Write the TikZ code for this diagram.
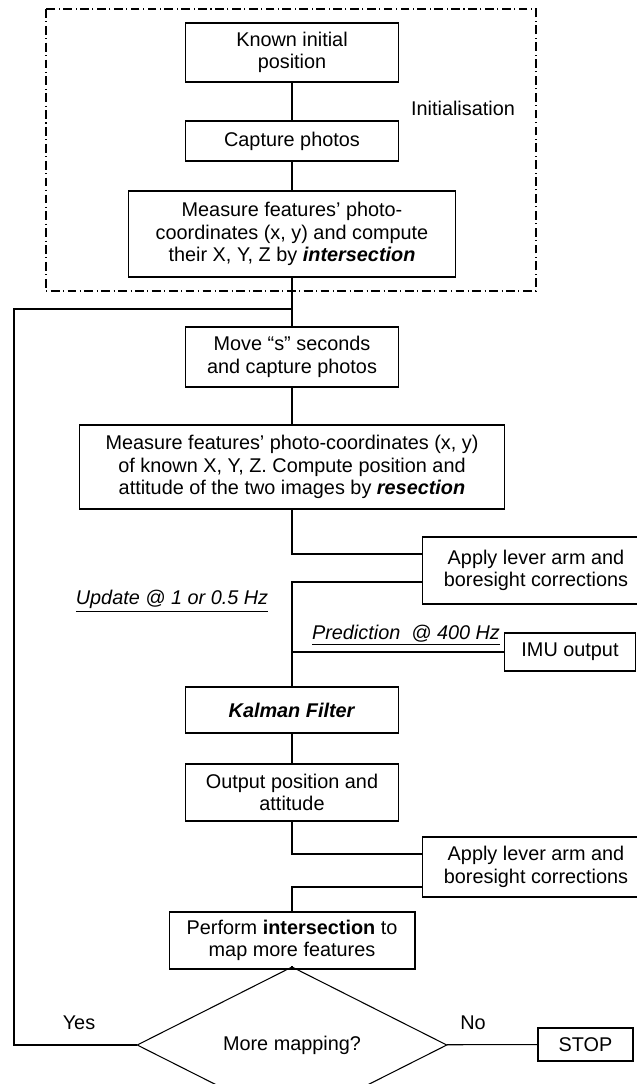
\documentclass[tikz,border=0pt]{standalone}
\usepackage{fontspec}
\setmainfont{Liberation Sans}
\usetikzlibrary{shapes.geometric}
\begin{document}
\begin{tikzpicture}[x = 0.02cm, y = -0.02cm,
		box/.style = {draw, line width = 0.6pt, inner sep = 0pt, align = center, font = \fontsize{11.3}{12.7}\selectfont},
		decision/.style = {draw, diamond, line width = 0.6pt, inner sep = 0pt, minimum width = 6.2cm, minimum height = 1.6cm, font = \fontsize{11.3}{12.7}\selectfont},
		link/.style = {draw, line width = 0.6pt},
		note/.style = {inner sep = 0pt, font = \fontsize{11.3}{12.7}\selectfont}]
				\useasboundingbox (0,0) rectangle (636,1084);
				% initialisation block
				\draw[line width = 0.6pt, dash pattern = on 5pt off 2pt on 0.6pt off 2pt] (46,9) rectangle (536,291);
				\node[note] (initlbl) at (463,108) {Initialisation};
				\node[box, minimum width = 4.26cm, minimum height = 1.18cm] (known) at (292,52.5) {Known initial\\position};
				\node[box, minimum width = 4.26cm, minimum height = 0.8cm] (capture) at (292,141) {Capture photos};
				\node[box, minimum width = 6.54cm, minimum height = 1.72cm] (meas1) at (292,234) {Measure features’ photo-\\coordinates (x, y) and compute\\their X, Y, Z by \textbf{\textit{intersection}}};
				% main loop
				\node[box, minimum width = 4.26cm, minimum height = 1.2cm] (move) at (292,357) {Move “s” seconds\\and capture photos};
				\node[box, minimum width = 8.5cm, minimum height = 1.68cm] (meas2) at (292,467) {Measure features’ photo-coordinates (x, y)\\of known X, Y, Z. Compute position and\\attitude of the two images by \textbf{\textit{resection}}};
				\node[box, minimum width = 4.56cm, minimum height = 1.34cm] (apply1) at (536,570.5) {Apply lever arm and\\boresight corrections};
				\node[box, minimum width = 2.62cm, minimum height = 0.76cm] (imu) at (570,652) {IMU output};
				\node[box, minimum width = 4.26cm, minimum height = 0.92cm] (kalman) at (292,710) {\textbf{\textit{Kalman Filter}}};
				\node[box, minimum width = 4.26cm, minimum height = 1.14cm] (output) at (292,792.5) {Output position and\\attitude};
				\node[box, minimum width = 4.56cm, minimum height = 1.2cm] (apply2) at (536,867) {Apply lever arm and\\boresight corrections};
				\node[box, minimum width = 4.92cm, minimum height = 1.14cm] (perform) at (292,940.5) {Perform \textbf{intersection} to\\map more features};
				\node[decision] (more) at (292,1045) {More mapping?};
				\node[box, minimum width = 1.9cm, minimum height = 0.66cm] (stop) at (585.5,1044.5) {STOP};
				\node[note] (update) at (172,601) {\underline{\textit{Update @ 1 or 0.5 Hz}}};
				\node[note] (predict) at (406,635) {\underline{\textit{Prediction\ \ @ 400 Hz}}};
				\node[note] (yes) at (79,1023) {Yes};
				\node[note] (no) at (473,1023) {No};
				\coordinate (back) at (292,309);
				\coordinate (loopc) at (14,309);
				% connectors
				\draw[link] (known) -- (capture);
				\draw[link] (capture) -- (meas1);
				\draw[link] (meas1) -- (move);
				\draw[link] (move) -- (meas2);
				\draw[link] (meas2.south) |- ([yshift = 0.33cm]apply1.west);
				\draw[link] ([yshift = -0.23cm]apply1.west) -| (kalman.north);
				\draw[link] (imu.west) -- (imu.west -| kalman.north);
				\draw[link] (kalman) -- (output);
				\draw[link] (output.south) |- ([yshift = 0.26cm]apply2.west);
				\draw[link] ([yshift = -0.4cm]apply2.west) -| (perform.north);
				\draw[link] (perform) -- (more);
				\draw[link] (more) -- (stop);
				\draw[link] (more.west) -| (loopc) -- (back);
			\end{tikzpicture}
\end{document}
